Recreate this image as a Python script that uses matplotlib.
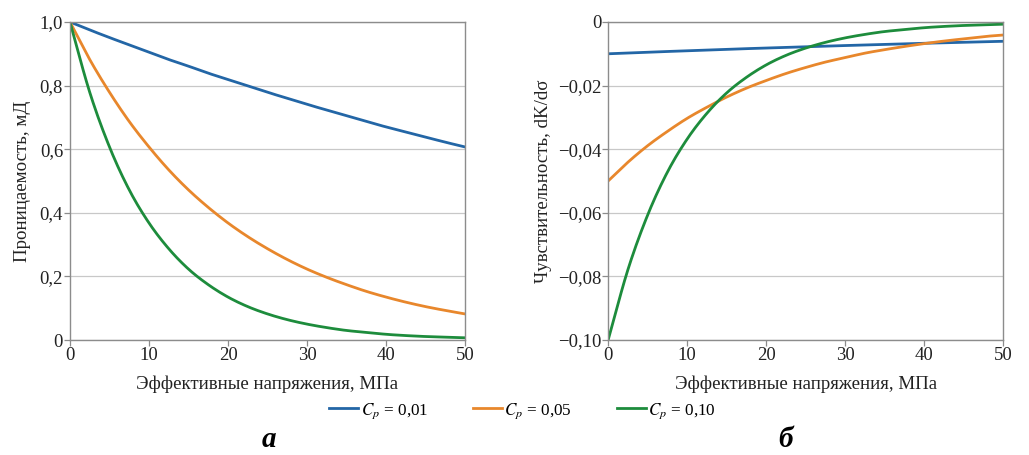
from __future__ import annotations

import matplotlib

matplotlib.use("Agg")
import matplotlib.pyplot as plt
import numpy as np
from matplotlib.ticker import FuncFormatter, MultipleLocator


# =========================
# Данные
# =========================
sigma = [0, 2.5, 5, 7.5, 10, 12.5, 15, 17.5, 20, 22.5, 25,
         27.5, 30, 32.5, 35, 37.5, 40, 42.5, 45, 47.5, 50]

k_cp001 = [1.000, 0.975, 0.951, 0.928, 0.905, 0.882, 0.861, 0.839, 0.819, 0.799, 0.779,
           0.760, 0.741, 0.723, 0.705, 0.687, 0.670, 0.654, 0.638, 0.622, 0.607]
k_cp005 = [1.000, 0.882, 0.779, 0.687, 0.607, 0.535, 0.472, 0.417, 0.368, 0.325, 0.287,
           0.253, 0.223, 0.197, 0.174, 0.153, 0.135, 0.119, 0.105, 0.093, 0.082]
k_cp010 = [1.000, 0.779, 0.607, 0.472, 0.368, 0.287, 0.223, 0.174, 0.135, 0.105, 0.082,
           0.064, 0.050, 0.039, 0.030, 0.024, 0.018, 0.014, 0.011, 0.009, 0.007]

dk_cp001 = [-0.0100, -0.00975, -0.00951, -0.00928, -0.00905, -0.00882, -0.00861,
            -0.00839, -0.00819, -0.00799, -0.00779, -0.00760, -0.00741, -0.00723,
            -0.00705, -0.00687, -0.00670, -0.00654, -0.00638, -0.00622, -0.00607]
dk_cp005 = [-0.0500, -0.0441, -0.0389, -0.0344, -0.0303, -0.0268, -0.0236, -0.0208,
            -0.0184, -0.0162, -0.0143, -0.0126, -0.0112, -0.0098, -0.0087, -0.0077,
            -0.0068, -0.0060, -0.0053, -0.0046, -0.0041]
dk_cp010 = [-0.1000, -0.0779, -0.0607, -0.0472, -0.0368, -0.0287, -0.0223, -0.0174,
            -0.0135, -0.0105, -0.0082, -0.0064, -0.0050, -0.0039, -0.0030, -0.0024,
            -0.0018, -0.0014, -0.0011, -0.0009, -0.0007]

labels = ["$C_p$ = 0,01", "$C_p$ = 0,05", "$C_p$ = 0,10"]
colors = ["#2366a6", "#e8872c", "#1d8c3c"]

XLABEL = "Эффективные напряжения, МПа"
YLABEL_A = "Проницаемость, мД"
YLABEL_B = "Чувствительность, dK/dσ"

SERIF = ["Liberation Serif", "DejaVu Serif"]
plt.rcParams["mathtext.fontset"] = "stix"


# =========================
# Утилиты
# =========================
def smooth(xs, ys, n=12):
    # сглаженная линия (Catmull-Rom), как "сглаживание" в табличном редакторе
    x = np.asarray(xs, float)
    y = np.asarray(ys, float)
    px = np.concatenate([[2 * x[0] - x[1]], x, [2 * x[-1] - x[-2]]])
    py = np.concatenate([[2 * y[0] - y[1]], y, [2 * y[-1] - y[-2]]])
    t = np.linspace(0, 1, n, endpoint=False)[:, None]
    out_x, out_y = [], []
    for i in range(1, len(px) - 2):
        for arr, res in ((px, out_x), (py, out_y)):
            p0, p1, p2, p3 = arr[i - 1], arr[i], arr[i + 1], arr[i + 2]
            seg = 0.5 * (2 * p1 + (-p0 + p2) * t + (2 * p0 - 5 * p1 + 4 * p2 - p3) * t ** 2
                         + (-p0 + 3 * p1 - 3 * p2 + p3) * t ** 3)
            res.extend(seg.ravel())
    out_x.append(x[-1])
    out_y.append(y[-1])
    return out_x, out_y


def comma_fmt(decimals: int):
    def fmt(v, _pos):
        if abs(v) < 1e-12:
            return "0"
        s = f"{abs(v):.{decimals}f}".replace(".", ",")
        return ("\u2212" if v < 0 else "") + s
    return FuncFormatter(fmt)


def style_axes(ax) -> None:
    for sp in ax.spines.values():
        sp.set_color("#8c8c8c")
        sp.set_linewidth(1.0)
    ax.grid(axis="y", color="#c8c8c8", linewidth=0.9)
    ax.set_axisbelow(True)
    ax.tick_params(length=4, width=0.9, color="#8c8c8c", labelsize=13.5,
                   labelcolor="#222222", pad=1)
    for lbl in ax.get_xticklabels() + ax.get_yticklabels():
        lbl.set_family(SERIF)
    ax.set_xlim(0, 50)
    ax.xaxis.set_major_locator(MultipleLocator(10))
    ax.set_xlabel(XLABEL, family=SERIF, fontsize=13.6, color="#222222", labelpad=8)


fig = plt.figure(figsize=(10.29, 4.55), dpi=100)
ax_a = fig.add_axes([0.068, 0.2527, 0.384, 0.699])
ax_b = fig.add_axes([0.591, 0.2527, 0.384, 0.699])

# Панель а
for ys, c, lab in zip([k_cp001, k_cp005, k_cp010], colors, labels):
    ax_a.plot(*smooth(sigma, ys), color=c, lw=2.0, label=lab)
ax_a.set_ylim(0, 1.0)
ax_a.yaxis.set_major_locator(MultipleLocator(0.2))
ax_a.yaxis.set_major_formatter(comma_fmt(1))
ax_a.set_ylabel(YLABEL_A, family=SERIF, fontsize=13.6, color="#222222", labelpad=6)
style_axes(ax_a)

# Панель б
for ys, c in zip([dk_cp001, dk_cp005, dk_cp010], colors):
    ax_b.plot(*smooth(sigma, ys), color=c, lw=2.0)
ax_b.set_ylim(-0.10, 0)
ax_b.yaxis.set_major_locator(MultipleLocator(0.02))
ax_b.yaxis.set_major_formatter(comma_fmt(2))
ax_b.set_ylabel(YLABEL_B, family=SERIF, fontsize=13.6, color="#222222", labelpad=4)
style_axes(ax_b)

leg = fig.legend(loc="center", bbox_to_anchor=(0.508, 0.097), ncol=3, frameon=False,
                 prop={"family": SERIF, "size": 12.3}, handlelength=1.7,
                 handletextpad=0.15, columnspacing=2.6)

fig.text(0.261, 0.033, "а", family=SERIF, fontsize=21, fontweight="bold",
         fontstyle="italic", ha="center", va="center")
fig.text(0.763, 0.033, "б", family=SERIF, fontsize=21, fontweight="bold",
         fontstyle="italic", ha="center", va="center")

fig.savefig("out.png", dpi=100)
